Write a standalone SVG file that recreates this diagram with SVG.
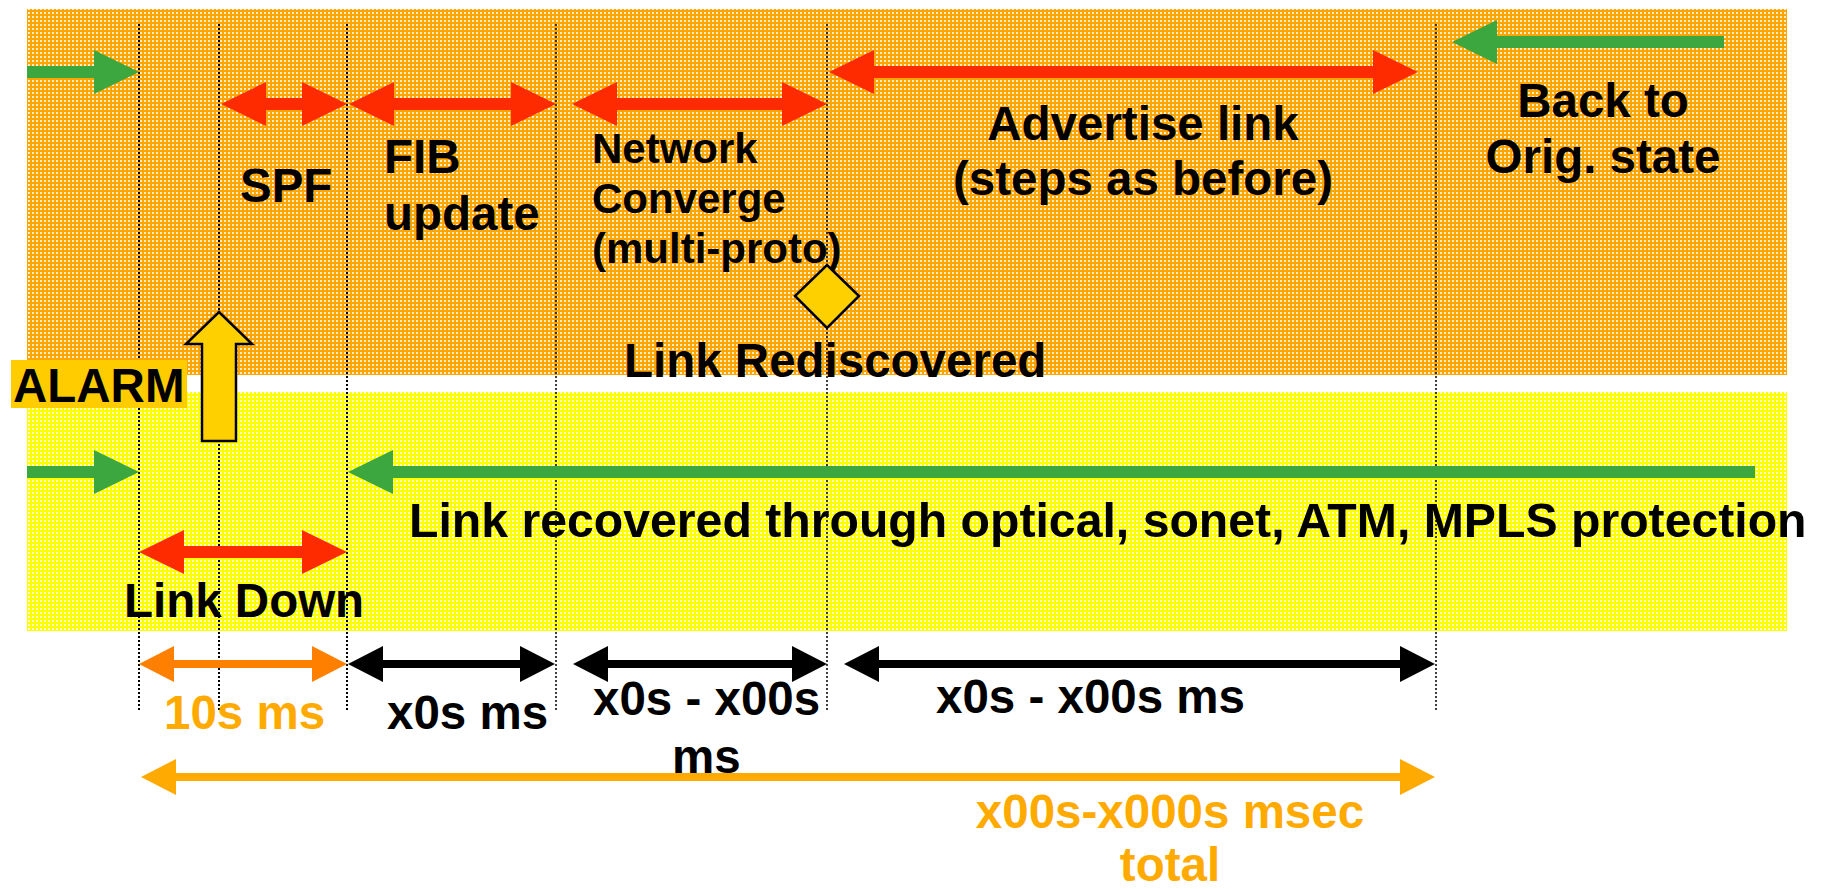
<svg xmlns="http://www.w3.org/2000/svg" width="1823" height="889" viewBox="0 0 1823 889">
  <style>
    text { font-family: "Liberation Sans", Arial, Helvetica, sans-serif; font-weight: bold; fill: #000; }
    .t { font-size: 47.5px; }
    .w { font-size: 48.2px; }
    .s { font-size: 42px; }
    .amber { fill: #FFAA00; }
    .guide { stroke: #000; stroke-dasharray: 2 2; fill: none; }
    .g1 { stroke-width: 2; }
    .g2 { stroke-width: 1.5; }
    .red { fill: #FF2B00; }
    .green { fill: #3CA63F; }
    .black { fill: #000; }
    .orange { fill: #FF8000; }
    .gold { fill: #FFD000; stroke: #000; stroke-width: 2.5; stroke-linejoin: miter; }
  </style>
  <defs>
    <!-- dotted halftone fills for the two bands -->
    <pattern id="dotsOrange" patternUnits="userSpaceOnUse" x="0" y="0" width="4" height="4">
      <rect width="4" height="4" fill="#FFA500"/>
      <rect x="0" y="0" width="2" height="2" fill="#FFFFFF" fill-opacity="0.8"/>
    </pattern>
    <pattern id="dotsYellow" patternUnits="userSpaceOnUse" x="0" y="0" width="4" height="4">
      <rect width="4" height="4" fill="#FFFF00"/>
      <rect x="0" y="0" width="2" height="2" fill="#FFFFFF" fill-opacity="0.8"/>
    </pattern>
  </defs>

  <rect width="1823" height="889" fill="#FFFFFF"/>

  <!-- bands -->
  <g id="band-routing">
    <rect x="27" y="9" width="1760" height="366" fill="url(#dotsOrange)"/>
  </g>
  <g id="band-transport">
    <rect x="27" y="392" width="1760" height="239" fill="url(#dotsYellow)"/>
  </g>

  <!-- time markers -->
  <g id="guides">
    <line class="guide g1" x1="139" y1="24" x2="139" y2="712"/>
    <line class="guide g1" x1="219" y1="24" x2="219" y2="712"/>
    <line class="guide g1" x1="347" y1="24" x2="347" y2="712"/>
    <line class="guide g2" x1="556" y1="24" x2="556" y2="712"/>
    <line class="guide g2" x1="827" y1="24" x2="827" y2="712"/>
    <line class="guide g2" x1="1436" y1="24" x2="1436" y2="712"/>
  </g>

  <!-- arrows -->
  <g id="connectors">
    <polygon class="green" points="27,66 94,66 94,50 139,72 94,94 94,78 27,78"/>
    <polygon class="red" points="221,104 266,82 266,98 302,98 302,82 347,104 302,126 302,110 266,110 266,126"/>
    <polygon class="red" points="349,104 394,82 394,98 511,98 511,82 556,104 511,126 511,110 394,110 394,126"/>
    <polygon class="red" points="572,104 617,82 617,98 782,98 782,82 827,104 782,126 782,110 617,110 617,126"/>
    <polygon class="red" points="829,72 874,50 874,66 1373,66 1373,50 1418,72 1373,94 1373,78 874,78 874,94"/>
    <polygon class="green" points="1452,42 1497,20 1497,36 1724,36 1724,48 1497,48 1497,64"/>

    <polygon class="green" points="27,466 94,466 94,450 139,472 94,494 94,478 27,478"/>
    <polygon class="green" points="348,472 393,450 393,466 1755,466 1755,478 393,478 393,494"/>
    <polygon class="red" points="139,552 184,530 184,546 302,546 302,530 347,552 302,574 302,558 184,558 184,574"/>

    <polygon class="orange" points="139,664 174,646 174,660 312,660 312,646 347,664 312,682 312,668 174,668 174,682"/>
    <polygon class="black" points="348,664 383,646 383,660 520,660 520,646 555,664 520,682 520,668 383,668 383,682"/>
    <polygon class="black" points="573,664 608,646 608,660 792,660 792,646 827,664 792,682 792,668 608,668 608,682"/>
    <polygon class="black" points="844,664 879,646 879,660 1400,660 1400,646 1435,664 1400,682 1400,668 879,668 879,682"/>
    <polygon class="amber" points="141,777 176,759 176,773 1400,773 1400,759 1435,777 1400,795 1400,781 176,781 176,795"/>
  </g>

  <!-- phase labels -->
  <g id="spf"><text class="t" x="240" y="202">SPF</text></g>
  <g id="fib-update">
    <text class="t" x="384" y="173">FIB</text>
    <text class="t" x="384" y="230">update</text>
  </g>
  <g id="network-converge">
    <text class="s" x="592" y="163">Network</text>
    <text class="s" x="592" y="213">Converge</text>
    <text class="s" x="592" y="263">(multi-proto)</text>
  </g>
  <g id="advertise-link">
    <text class="t" x="1143" y="140" text-anchor="middle">Advertise link</text>
    <text class="t" x="1143" y="195" text-anchor="middle">(steps as before)</text>
  </g>
  <g id="back-to-orig">
    <text class="t" x="1603" y="117" text-anchor="middle">Back to</text>
    <text class="t" x="1603" y="173" text-anchor="middle">Orig. state</text>
  </g>

  <g id="link-rediscovered">
    <polygon class="gold" points="827,265 859,296 827,328 795,296"/>
    <text class="t" x="624" y="377">Link Rediscovered</text>
  </g>

  <g id="alarm">
    <rect x="11" y="360" width="176" height="48" fill="#FFCC00"/>
    <text class="t" x="13" y="402">ALARM</text>
    <polygon class="gold" points="219,312 252,344 236,344 236,441 202,441 202,344 186,344"/>
  </g>

  <g id="link-recovered">
    <text class="w" x="409" y="537">Link recovered through optical, sonet, ATM, MPLS protection</text>
  </g>
  <g id="link-down">
    <text class="t" x="124" y="617">Link Down</text>
  </g>

  <!-- durations -->
  <g id="dur-link-down"><text class="t amber" x="164" y="729">10s ms</text></g>
  <g id="dur-fib"><text class="t" x="387" y="729">x0s ms</text></g>
  <g id="dur-converge">
    <text class="t" x="593" y="715">x0s - x00s</text>
    <text class="t" x="672" y="773">ms</text>
  </g>
  <g id="dur-advertise"><text class="t" x="936" y="713">x0s - x00s ms</text></g>
  <g id="dur-total">
    <text class="t amber" x="1170" y="828" text-anchor="middle">x00s-x000s msec</text>
    <text class="t amber" x="1170" y="881" text-anchor="middle">total</text>
  </g>
</svg>
